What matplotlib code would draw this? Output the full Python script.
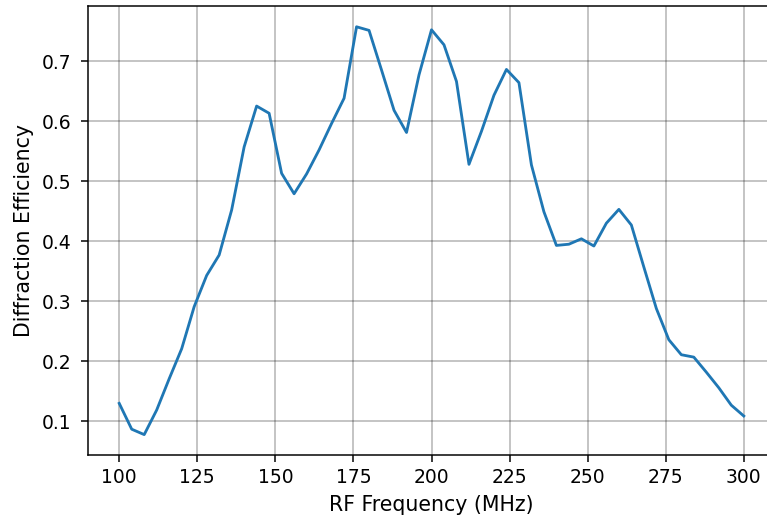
import numpy as np
import matplotlib
matplotlib.use('Agg')
import matplotlib.pyplot as plt

# RF frequency sweep, 4 MHz steps
freq = np.arange(100, 301, 4)
eff = [0.130, 0.087, 0.078, 0.119, 0.171, 0.221, 0.291, 0.343, 0.377, 0.452,
       0.557, 0.625, 0.613, 0.513, 0.479, 0.512, 0.552, 0.596, 0.638, 0.757,
       0.751, 0.685, 0.618, 0.581, 0.677, 0.752, 0.727, 0.666, 0.528, 0.583,
       0.643, 0.686, 0.664, 0.527, 0.449, 0.393, 0.395, 0.404, 0.392, 0.430,
       0.453, 0.427, 0.357, 0.288, 0.236, 0.211, 0.207, 0.182, 0.156, 0.127,
       0.109]

s = 1.35  # everything scaled up from the 10pt defaults
fig = plt.figure(figsize=(7.67, 5.2), dpi=100)
ax = fig.add_axes([88/767, 1 - 455/520, 687/767, 448.6/520])
ax.plot(freq, eff, color='#1f77b4', lw=1.5 * s)
ax.set_xlim(90, 310)
ax.grid(True, color='black', alpha=0.3, lw=0.8 * s)
ax.tick_params(labelsize=10 * s, length=3.5 * s, width=0.8 * s, pad=3.5 * s)
ax.tick_params(axis='y', pad=7)
for sp in ax.spines.values():
    sp.set_linewidth(0.8 * s)
ax.set_xlabel('RF Frequency (MHz)', fontsize=14.8, labelpad=4 * s)
ax.set_ylabel('Diffraction Efficiency', fontsize=14.8, labelpad=4 * s)

plt.savefig('out.png', dpi=100)
